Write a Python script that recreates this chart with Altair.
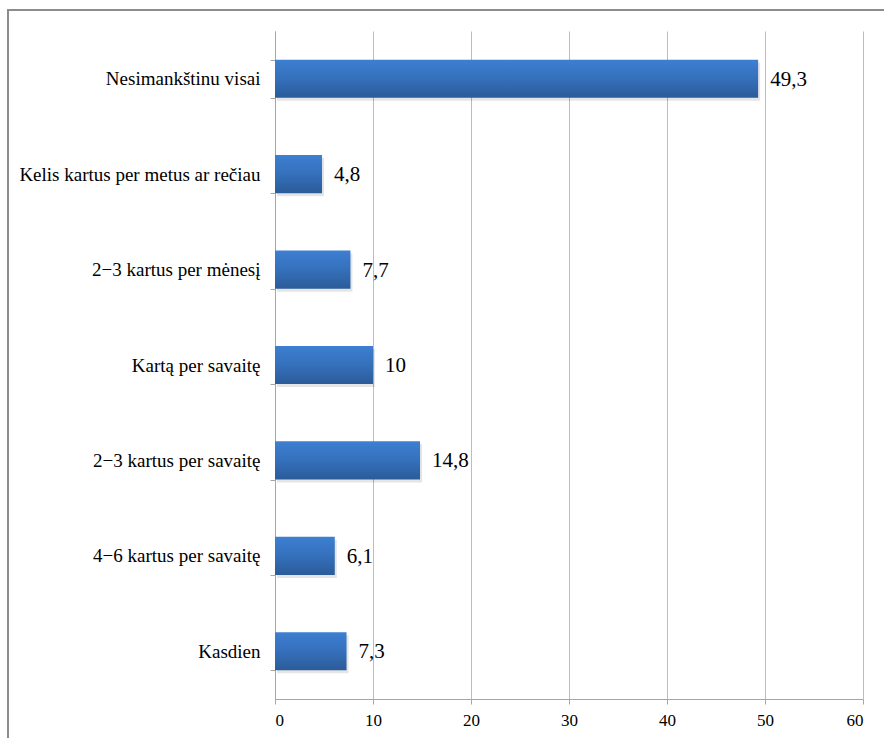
import altair as alt
import pandas as pd

categories = [
    "Nesimankštinu visai",
    "Kelis kartus per metus ar rečiau",
    "2−3 kartus per mėnesį",
    "Kartą per savaitę",
    "2−3 kartus per savaitę",
    "4−6 kartus per savaitę",
    "Kasdien",
]
values = [49.3, 4.8, 7.7, 10, 14.8, 6.1, 7.3]
labels = ["49,3", "4,8", "7,7", "10", "14,8", "6,1", "7,3"]
x_ticks = [0, 10, 20, 30, 40, 50, 60]

df = pd.DataFrame({"cat": categories, "val": values, "lbl": labels})

FONT = "Liberation Serif"

x_enc = alt.X(
    "val:Q",
    scale=alt.Scale(domain=[0, 60], nice=False),
    axis=alt.Axis(
        values=x_ticks,
        title=None,
        grid=True,
        gridColor="#bdbdbd",
        gridWidth=1,
        domainColor="#a6a6a6",
        tickColor="#a6a6a6",
        tickSize=5,
        labelFont=FONT,
        labelFontSize=17,
        labelColor="#000000",
        labelPadding=8,
    ),
)
y_enc = alt.Y(
    "cat:N",
    sort=categories,
    scale=alt.Scale(paddingInner=0.6, paddingOuter=0.3),
    axis=alt.Axis(
        title=None,
        tickBand="extent",
        domainColor="#a6a6a6",
        tickColor="#a6a6a6",
        tickSize=5,
        labelFont=FONT,
        labelFontSize=19,
        labelColor="#000000",
        labelPadding=10,
        labelLimit=300,
    ),
)

base = alt.Chart(df)

# soft drop shadow beneath each bar
shadow = base.mark_bar(color="#000000", opacity=0.1, xOffset=2, yOffset=3).encode(
    x=alt.X("val:Q", scale=alt.Scale(domain=[0, 60], nice=False)),
    y=alt.Y("cat:N", sort=categories),
)

bars = base.mark_bar(
    color=alt.Gradient(
        gradient="linear",
        x1=0, y1=0, x2=0, y2=1,
        stops=[
            alt.GradientStop(color="#3d7fd2", offset=0),
            alt.GradientStop(color="#3570bb", offset=0.5),
            alt.GradientStop(color="#2b5b99", offset=1),
        ],
    )
).encode(x=x_enc, y=y_enc)

text = base.mark_text(
    align="left", baseline="middle", dx=12, dy=1, font=FONT, fontSize=21, color="#000000"
).encode(x="val:Q", y=alt.Y("cat:N", sort=categories), text="lbl:N")

# outer chart frame
frame = alt.Chart(pd.DataFrame({"k": [0]})).mark_rect(
    fill=None, stroke="#8c8c8c", strokeWidth=2, clip=False
).encode(
    x=alt.value(-267), x2=alt.value(650),
    y=alt.value(-21), y2=alt.value(740),
)

chart = (
    alt.layer(frame, shadow, bars, text)
    .properties(
        width=588,
        height=668,
        autosize=alt.AutoSizeParams(type="none"),
        padding={"left": 275, "top": 31, "right": 21, "bottom": 39},
        background="#ffffff",
    )
    .configure_view(stroke=None)
)

chart.save("out.html", embed_options={"renderer": "svg", "actions": False})
